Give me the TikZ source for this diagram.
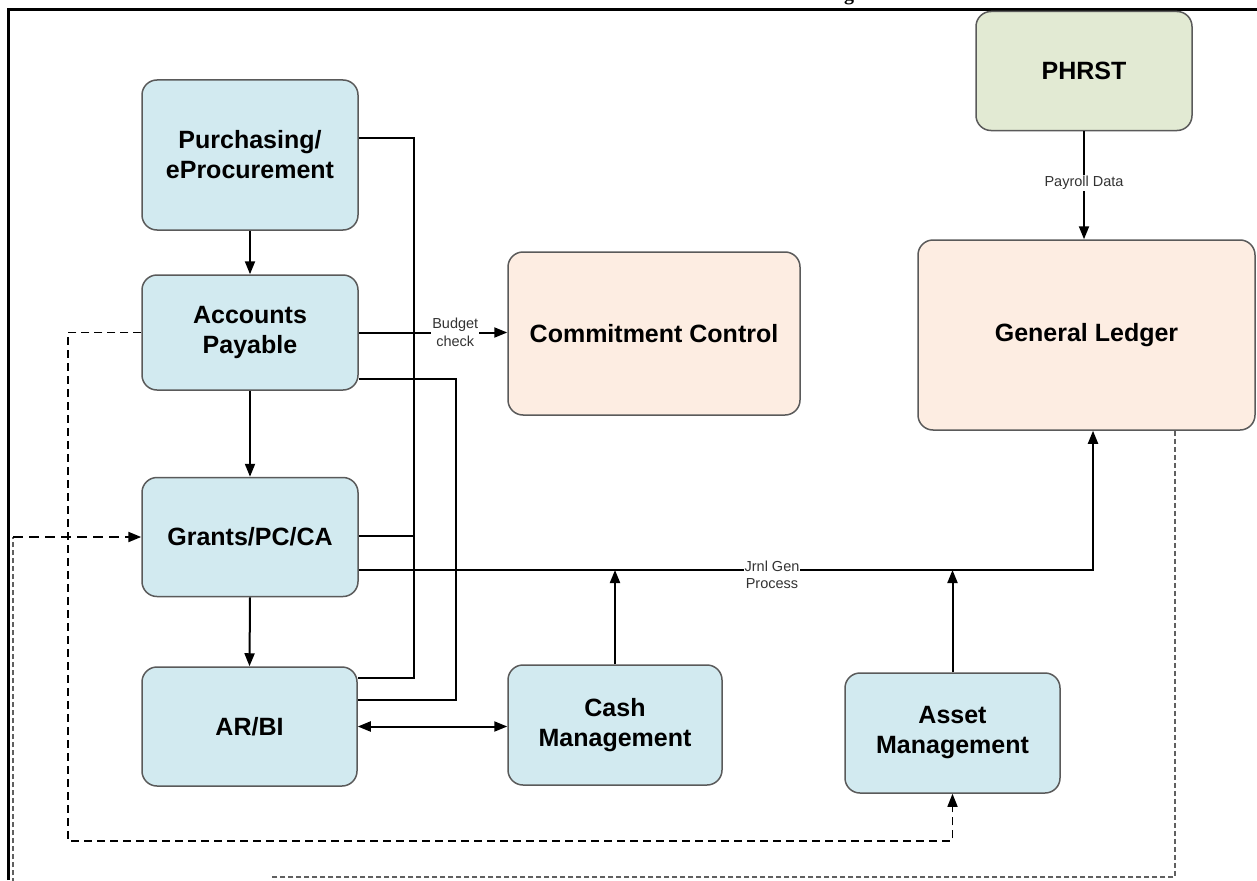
\documentclass[tikz,border=0pt]{standalone}
\usepackage{fontspec}
\setmainfont{Liberation Sans}
\newfontfamily\titleserif{Liberation Serif}
\usetikzlibrary{arrows.meta,calc}
\definecolor{boxblue}{HTML}{D2EAF0}
\definecolor{boxpeach}{HTML}{FDEDE2}
\definecolor{boxgreen}{HTML}{E2EAD3}
\definecolor{boxedge}{HTML}{5A5A5A}
\definecolor{labelgray}{HTML}{333333}
\definecolor{dashgray}{HTML}{606060}
\tikzset{
  boxbase/.style={draw=boxedge, line width=1.5pt, rounded corners=15pt, align=center,
    font=\bfseries\fontsize{25}{30}\selectfont, inner sep=0pt},
  bluebox/.style={boxbase, fill=boxblue},
  peachbox/.style={boxbase, fill=boxpeach},
  greenbox/.style={boxbase, fill=boxgreen},
  conn/.style={draw=black, line width=2pt},
  arrowed/.style={-{Triangle[length=13pt,width=10pt]}},
  bothway/.style={{Triangle[length=13pt,width=10pt]}-{Triangle[length=13pt,width=10pt]}},
  lbl/.style={fill=white, text=labelgray, align=center, inner sep=1pt,
    font=\fontsize{14.5}{17.5}\selectfont},
  blackdash/.style={draw=black, line width=1.5pt, dash pattern=on 8pt off 5pt},
  bolddash/.style={draw=black, line width=2.2pt, dash pattern=on 10pt off 6pt},
  graydash/.style={draw=dashgray, line width=1.4pt, dash pattern=on 5pt off 3pt},
  frameline/.style={draw=black, line width=3pt}
}
\begin{document}
\begin{tikzpicture}[x=1pt,y=-1pt]
\clip (0,0) rectangle (1257,880);
\fill[white] (0,0) rectangle (1257,880);

% frame and cut-off title
\node[anchor=base, font=\titleserif\bfseries\fontsize{20}{24}\selectfont] (title) at (849,1) {g};
\coordinate (ftl) at (8,10);
\coordinate (ftr) at (1257,10);
\coordinate (fbl) at (8,880);
\draw[frameline] (fbl) -- (ftl) -- (ftr);

% boxes
\node[bluebox, minimum width=216pt, minimum height=150pt] (purch) at (250,155) {Purchasing/\\eProcurement};
\node[bluebox, minimum width=216pt, minimum height=115pt] (ap) at (250,332.5) {Accounts\\Payable};
\node[bluebox, minimum width=216pt, minimum height=119pt] (grants) at (250,537) {Grants/PC/CA};
\node[bluebox, minimum width=215pt, minimum height=119pt] (arbi) at (249.5,726.5) {AR/BI};
\node[peachbox, minimum width=292pt, minimum height=163pt] (cc) at (654,333.5) {Commitment Control};
\node[greenbox, minimum width=216pt, minimum height=119pt] (phrst) at (1084,71) {PHRST};
\node[peachbox, minimum width=337pt, minimum height=190pt] (gl) at (1086.5,335) {General Ledger};
\node[bluebox, minimum width=214pt, minimum height=120pt] (cash) at (615,725) {Cash\\Management};
\node[bluebox, minimum width=215pt, minimum height=120pt] (asset) at (952.5,733) {Asset\\Management};

% vertical chain on the left
\draw[conn, arrowed] (purch.south) -- (ap.north);
\draw[conn, arrowed] (ap.south) -- (grants.north);
\draw[conn, arrowed] (grants.south) -- (arbi.north);

% bus 1 (x=414)
\coordinate (b1a) at (414,138);
\coordinate (b1b) at (414,536);
\coordinate (b1c) at (414,678);
\draw[conn] (b1a -| purch.east) -- (b1a) -- (b1c) -- (b1c -| arbi.east);
\draw[conn] (b1b -| grants.east) -- (b1b);

% bus 2 (x=456)
\coordinate (b2a) at (456,379);
\coordinate (b2b) at (456,700);
\draw[conn] (b2a -| ap.east) -- (b2a) -- (b2b) -- (b2b -| arbi.east);

% budget check
\draw[conn, arrowed] (ap.east) -- (ap.east -| cc.west)
  node[lbl, pos=0.65] (budget) {Budget\\check};

% journal generation line
\coordinate (j1) at (1093,570);
\draw[conn, arrowed] (j1 -| grants.east) -- (j1) -- (j1 |- gl.south);
\coordinate (jl) at (772,575);
\node[lbl] (jrnl) at (jl) {Jrnl Gen\\Process};
\draw[conn, arrowed] (cash.north) -- (cash.north |- j1);
\draw[conn, arrowed] (asset.north) -- (asset.north |- j1);

% AR/BI <-> Cash
\draw[conn, bothway] (arbi.east) -- (arbi.east -| cash.west);

% payroll
\draw[conn, arrowed] (phrst.south) -- (phrst.south |- gl.north)
  node[lbl, pos=0.48] (payroll) {Payroll Data};

% dashed AP -> Asset
\coordinate (d1) at (68,841);
\draw[blackdash, arrowed] (ap.west) -| (d1) -| (asset.south);

% gray dashed GL -> Grants
\coordinate (g1) at (1175,877);
\coordinate (g2) at (273,877);
\coordinate (g3) at (273,900);
\coordinate (g4) at (13,900);
\coordinate (g5) at (13,537);
\draw[graydash] (g1 |- gl.south) -- (g1) -- (g2) -- (g3) -- (g4) -- (g5);
\draw[bolddash, arrowed] (g5) -- (g5 -| grants.west);
\end{tikzpicture}
\end{document}
